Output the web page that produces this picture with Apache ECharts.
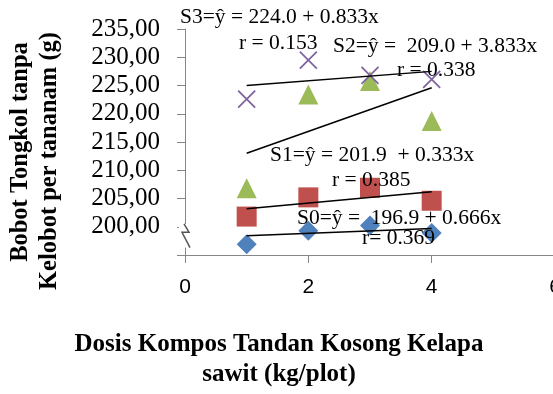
<!DOCTYPE html>
<html><head><meta charset="utf-8">
<script src="https://cdn.jsdelivr.net/npm/echarts@6/dist/echarts.min.js"></script>
<style>html,body{margin:0;padding:0;background:#fff}#c{width:553px;height:394px}</style>
</head><body><div id="c"></div>
<script>
const xValues = [1, 2, 3, 4];
const s0 = [196.9, 199.3, 200.2, 198.9];
const s1 = [201.8, 205.2, 206.9, 204.6];
const s2 = [206.8, 223.4, 225.8, 218.7];
const s3 = [222.6, 229.5, 226.8, 226.1];
const trendX = [1, 4];
const t0 = [198.4, 199.7];
const t1 = [203.2, 206.2];
const t2 = [213.0, 224.6];
const t3 = [225.0, 227.5];
const yTickLabels = [200, 205, 210, 215, 220, 225, 230, 235];
const annotations = [
  "S3=ŷ = 224.0 + 0.833x", "r = 0.153",
  "S2=ŷ =  209.0 + 3.833x", "r = 0.338",
  "S1=ŷ = 201.9  + 0.333x", "r = 0.385",
  "S0=ŷ =  196.9 + 0.666x", "r= 0.369"
];
const xTitle = ["Dosis Kompos Tandan Kosong Kelapa", "sawit (kg/plot)"];
const yTitle = ["Bobot Tongkol tanpa", "Kelobot per tananam (g)"];

const pts = ys => xValues.map((x, i) => [x, ys[i]]);
const tr = ys => trendX.map((x, i) => [x, ys[i]]);

const chart = echarts.init(document.getElementById('c'), null, {renderer: 'canvas'});
const serif = '"Liberation Serif","Times New Roman",serif';
const axisCol = '#868686';

function scatter(name, data, symbol, color, extra) {
  return Object.assign({
    type: 'scatter', name, data, symbol, symbolSize: 20,
    itemStyle: {color, opacity: 1}, silent: true, z: 2
  }, extra || {});
}
function trend(data) {
  return {type: 'line', data, symbol: 'none', silent: true, z: 3,
    lineStyle: {color: '#000', width: 1.5}};
}

const annPos = [[180,17],[239,43],[333,46],[397,70],[270,155],[332,180],[297,218],[362,238]];

const graphics = [];
annotations.forEach((t, i) => graphics.push({
  type: 'text', x: annPos[i][0], y: annPos[i][1], z: 10,
  style: {text: t, font: '21.5px ' + serif, fill: '#000', textAlign: 'left', align: 'left', textVerticalAlign: 'middle', verticalAlign: 'middle'}
}));
const xTitleY = [345, 375];
xTitle.forEach((t, i) => graphics.push({
  type: 'text', x: 279, y: xTitleY[i], z: 10,
  style: {text: t, font: 'bold 25px ' + serif, fill: '#000', textAlign: 'center', align: 'center', textVerticalAlign: 'middle', verticalAlign: 'middle'}
}));
const yTitleX = [21, 50];
const yTitleY = [152, 161];
yTitle.forEach((t, i) => graphics.push({
  type: 'text', x: yTitleX[i], y: yTitleY[i], rotation: Math.PI / 2, z: 10,
  style: {text: t, font: 'bold 24.5px ' + serif, fill: '#000', textAlign: 'center', align: 'center', textVerticalAlign: 'middle', verticalAlign: 'middle'}
}));

chart.setOption({
  animation: false,
  backgroundColor: '#fff',
  grid: {left: 185, top: 29, width: 370, height: 226, containLabel: false, outerBoundsMode: 'none'},
  xAxis: {
    type: 'value', min: 0, max: 6, interval: 2,
    axisLine: {show: true, lineStyle: {color: axisCol, width: 1}},
    axisTick: {show: true, length: 8, lineStyle: {color: axisCol}},
    splitLine: {show: false},
    axisLabel: {margin: 22, color: '#000', fontSize: 21, fontFamily: '"Liberation Sans", Arial, sans-serif'}
  },
  yAxis: {
    type: 'value', min: 195, max: 235, interval: 5,
    axisLine: {show: true, lineStyle: {color: axisCol, width: 1}},
    axisTick: {show: true, length: 8, lineStyle: {color: axisCol}},
    splitLine: {show: false},
    axisLabel: {
      margin: 25, color: '#000', fontSize: 25, fontFamily: serif,
      formatter: v => yTickLabels.includes(v) ? v.toFixed(2).replace('.', ',') : ''
    }
  },
  series: [
    scatter('S0', pts(s0), 'diamond', '#4F81BD'),
    scatter('S1', pts(s1), 'rect', '#C0504D'),
    scatter('S2', pts(s2), 'triangle', '#9BBB59'),
    scatter('S3', pts(s3), 'path://M0,0L10,10M10,0L0,10', '#8064A2',
      {symbolSize: 17, itemStyle: {color: 'none', borderColor: '#8064A2', borderWidth: 1.8, opacity: 1}}),
    trend(tr(t0)), trend(tr(t1)), trend(tr(t2)), trend(tr(t3))
  ],
  graphic: graphics
});

// axis break decoration placed via the axis scale
const pTop = chart.convertToPixel({gridIndex: 0}, [0, 200.5]);
const pBot = chart.convertToPixel({gridIndex: 0}, [0, 196.3]);
const ax = pTop[0], y1 = pTop[1], y2 = pBot[1];
const ym = y1 + (y2 - y1) * 0.35;
graphics.push(
  {type: 'rect', shape: {x: ax - 6, y: y1, width: 12, height: y2 - y1}, style: {fill: '#fff'}, z: 20},
  {type: 'polyline', shape: {points: [[ax - 1, y1], [ax + 4, ym], [ax - 3, ym], [ax + 5, y2]]},
    style: {stroke: '#555', lineWidth: 1.5, fill: null}, z: 21}
);
chart.setOption({graphic: graphics});
</script></body></html>
